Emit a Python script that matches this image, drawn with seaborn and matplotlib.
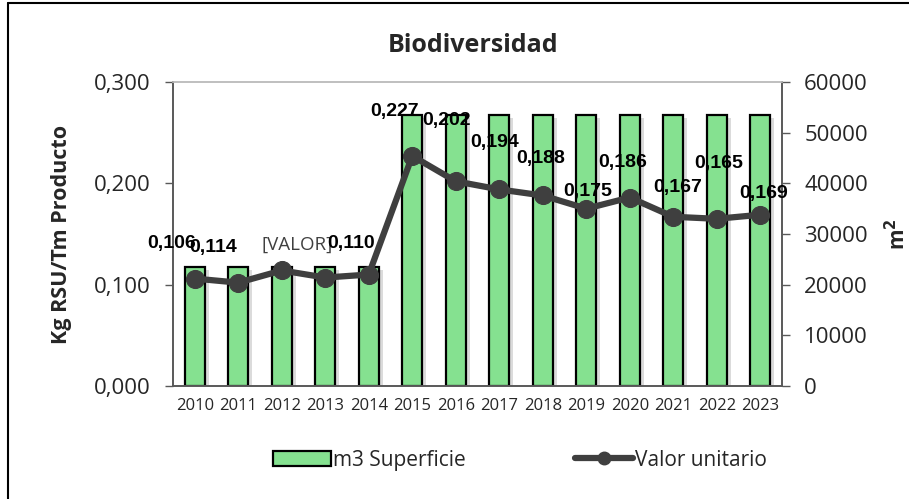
import numpy as np
import pandas as pd
import matplotlib
matplotlib.use('Agg')
import matplotlib.pyplot as plt
import matplotlib.patheffects as pe
from matplotlib.patches import Patch
from matplotlib.lines import Line2D
import seaborn as sns

years = ['2010', '2011', '2012', '2013', '2014', '2015', '2016',
         '2017', '2018', '2019', '2020', '2021', '2022', '2023']
superficie = [23500, 23500, 23500, 23500, 23500, 53500, 53500,
              53500, 53500, 53500, 53500, 53500, 53500, 53500]
valor_unitario = [0.106, 0.102, 0.114, 0.107, 0.110, 0.227, 0.202,
                  0.194, 0.188, 0.175, 0.186, 0.167, 0.165, 0.169]
point_labels = ['0,106', '0,114', '[VALOR]', '', '0,110', '0,227', '0,202',
                '0,194', '0,188', '0,175', '0,186', '0,167', '0,165', '0,169']

# label offsets in pixels (Excel moved them by hand)
label_offsets = [(-23, 35), (-25, 35), (15, 26), (0, 0), (-18, 31), (-18, 44), (-9, 61),
                 (-5, 47), (-2, 37), (1, 17), (-7, 35), (4, 29), (2, 55), (3, 21)]

df = pd.DataFrame({'year': years, 'sup': superficie, 'valor': valor_unitario})

sns.set_style('white')
plt.rcParams['font.family'] = ['Open Sans', 'DejaVu Sans']

bar_color = '#85E190'
line_color = '#3F3F3F'
spine_color = '#595959'

fig = plt.figure(figsize=(9.09, 4.99), dpi=100)
ax = fig.add_axes([173 / 909, 1 - 386 / 499, 609 / 909, 304 / 499])
ax2 = ax.twinx()

# bars -> right axis scale (0-60000)
sns.barplot(data=df, x='year', y='sup', color=bar_color, width=0.45,
            edgecolor='black', linewidth=1.6, saturation=1, ax=ax, zorder=2)
for p in ax.patches:
    p.set_path_effects([pe.SimplePatchShadow(offset=(3, -2), shadow_rgbFace='#9a9a9a', alpha=0.35),
                        pe.Normal()])

# line -> left axis scale
sns.lineplot(data=df, x='year', y='valor', color=line_color, linewidth=4.5,
             marker='o', markersize=13, markeredgecolor=line_color, ax=ax2, zorder=3)

ax.set_ylim(0, 60000)
ax.set_yticks(np.arange(0, 60001, 10000))
ax.yaxis.tick_right()
ax.yaxis.set_label_position('right')
ax.set_ylabel('m$^{\\mathbf{2}}$', fontsize=15, fontweight='bold', labelpad=12)
ax.set_xlabel('')
ax.set_xlim(-0.5, len(years) - 0.5)

ax2.set_ylim(0, 0.300)
ax2.set_yticks([0, 0.1, 0.2, 0.3])
ax2.set_yticklabels(['0,000', '0,100', '0,200', '0,300'])
ax2.yaxis.tick_left()
ax2.yaxis.set_label_position('left')
ax2.set_ylabel('Kg RSU/Tm Producto', fontsize=15.5, fontweight='bold', labelpad=16)
ax2.set_xlabel('')
ax2.set_xlim(-0.5, len(years) - 0.5)

for i, (lab, off) in enumerate(zip(point_labels, label_offsets)):
    if not lab:
        continue
    if lab.startswith('['):
        ax2.annotate(lab, (i, valor_unitario[i]), xytext=off, textcoords='offset pixels',
                     ha='center', va='center', fontsize=13.5, color='#404040')
    else:
        ax2.annotate(lab, (i, valor_unitario[i]), xytext=off, textcoords='offset pixels',
                     ha='center', va='center', fontsize=14, fontweight='bold',
                     family='Liberation Sans', color='black')

for a in (ax, ax2):
    a.tick_params(axis='y', labelsize=16, length=6, width=1, color=spine_color,
                  direction='out', pad=10)
    for s in a.spines.values():
        s.set_visible(True)
        s.set_color(spine_color)
        s.set_linewidth(1.2)
    a.spines['top'].set_color('#BFBFBF')

ax.set_xticks(range(len(years)))
ax.set_xticklabels(years)
ax.tick_params(axis='x', which='major', length=0, labelsize=12, pad=9)
ax.set_xticks(np.arange(-0.5, len(years), 1), minor=True)
ax.tick_params(axis='x', which='minor', length=6, width=1, color=spine_color, direction='out')
ax2.tick_params(axis='x', which='both', length=0)

fig.text(0.52, 0.908, 'Biodiversidad', ha='center', va='center', fontsize=18, fontweight='bold')

handles = [Patch(facecolor=bar_color, edgecolor='black', linewidth=1.6, label='m3 Superficie'),
           Line2D([0], [0], color=line_color, linewidth=4.5, marker='o', markersize=9,
                  label='Valor unitario')]
fig.legend(handles=handles, loc='center', bbox_to_anchor=(0.572, 0.078), ncol=2, frameon=False,
           fontsize=15, columnspacing=5.2, handlelength=2.8, handletextpad=0.1)

# outer chart frame (only left/top edges visible in the crop)
fig.add_artist(plt.Line2D([8 / 909, 8 / 909], [0, 1 - 3 / 499], transform=fig.transFigure,
                          color='black', linewidth=1.5))
fig.add_artist(plt.Line2D([8 / 909, 1], [1 - 3 / 499, 1 - 3 / 499], transform=fig.transFigure,
                          color='black', linewidth=1.5))

fig.savefig('out.png', dpi=100)
